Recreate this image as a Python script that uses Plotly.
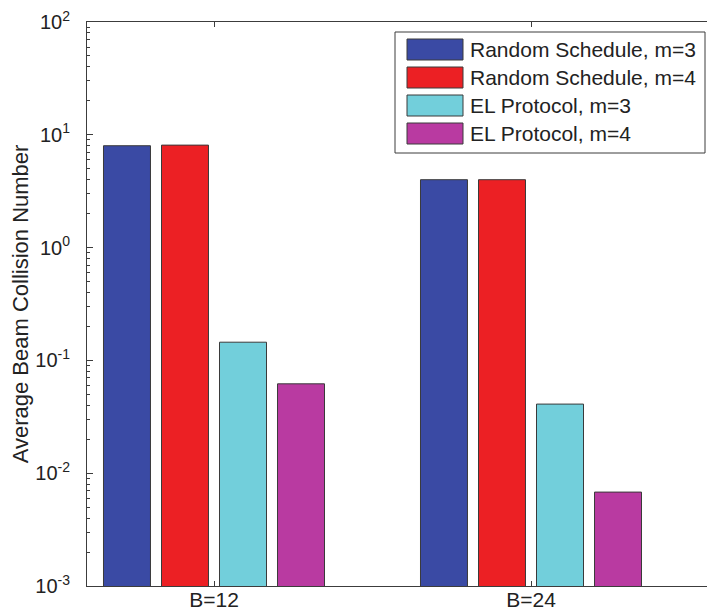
import plotly.graph_objects as go

categories = ["B=12", "B=24"]
cat_pos = [1, 2]
series_names = ["Random Schedule, m=3", "Random Schedule, m=4",
                "EL Protocol, m=3", "EL Protocol, m=4"]
rs_m3 = [8.0, 4.0]
rs_m4 = [8.1, 4.0]
el_m3 = [0.145, 0.041]
el_m4 = [0.062, 0.0068]
series_values = [rs_m3, rs_m4, el_m3, el_m4]
colors = ["#3a4aa4", "#ec2024", "#72cfdb", "#b93aa1"]
ytick_vals = [1e-3, 1e-2, 1e-1, 1e0, 1e1, 1e2]
ytick_text = ["10<sup>-3</sup>", "10<sup>-2</sup>", "10<sup>-1</sup>",
              "10<sup>0</sup>", "10<sup>1</sup>", "10<sup>2</sup>"]
minor_vals = [k * 10.0 ** e for e in range(-3, 2) for k in range(2, 10)]

FONT = "Liberation Sans, Arial, sans-serif"
AX = "#3c3c3c"

fig = go.Figure()
for name, vals, col in zip(series_names, series_values, colors):
    fig.add_trace(go.Bar(x=cat_pos, y=vals, name=name, marker_color=col,
                         marker_line=dict(color="#3a3a3a", width=1),
                         showlegend=False))

# page body has an 8px margin: figure starts at (8, 8)
OFF = 8
W, H = 715 - OFF, 610 - OFF
L, R, T, B = 87 - OFF, 0, 22 - OFF, 610 - OFF - (586 - OFF)
pw, ph = W - L - R, H - T - B
def px(x): return (x - OFF - L) / pw
def py(y): return (H - B - (y - OFF)) / ph

shapes = [dict(type="rect", xref="paper", yref="paper",
               x0=px(395), x1=px(705), y0=py(153), y1=py(32),
               line=dict(color=AX, width=1), fillcolor="white", layer="above")]
annotations = []
row_centers = [49.5, 77.5, 105.5, 133.5]
for name, col, yc in zip(series_names, colors, row_centers):
    shapes.append(dict(type="rect", xref="paper", yref="paper",
                       x0=px(407), x1=px(463), y0=py(yc + 10.5), y1=py(yc - 10.5),
                       line=dict(color="#3a3a3a", width=1), fillcolor=col, layer="above"))
    annotations.append(dict(xref="paper", yref="paper", x=px(468), y=py(yc),
                            text=name, showarrow=False, xanchor="left", yanchor="middle",
                            font=dict(family=FONT, size=21, color="#222222")))

fig.update_layout(
    width=W, height=H,
    margin=dict(l=L, r=R, t=T, b=B, autoexpand=False),
    paper_bgcolor="white", plot_bgcolor="white",
    barmode="group", bargap=0.268, bargroupgap=0.19,
    font=dict(family=FONT, size=19, color="#222222"),
    shapes=shapes, annotations=annotations,
)
fig.update_xaxes(
    range=[1 - 127 / 317, 2 + 184 / 317],
    tickvals=cat_pos, ticktext=categories,
    tickfont=dict(size=21), ticks="inside", ticklen=5, tickcolor=AX,
    showline=True, linecolor=AX, linewidth=1, mirror="ticks",
    showgrid=False, zeroline=False, ticklabelstandoff=-5,
    ticklabeloverflow="allow",
)
fig.update_yaxes(
    type="log", range=[-3, 2],
    tickvals=ytick_vals, ticktext=ytick_text,
    tickfont=dict(size=20), ticks="inside", ticklen=6, tickcolor=AX,
    minor=dict(tickvals=minor_vals, ticks="inside", ticklen=3,
               tickcolor=AX, showgrid=False),
    showline=True, linecolor=AX, linewidth=1,
    showgrid=False, zeroline=False, ticklabelstandoff=12,
    ticklabeloverflow="allow",
    title=dict(text="Average Beam Collision Number", font=dict(size=22), standoff=4),
    automargin=False,
)

fig.write_html("out.html")
